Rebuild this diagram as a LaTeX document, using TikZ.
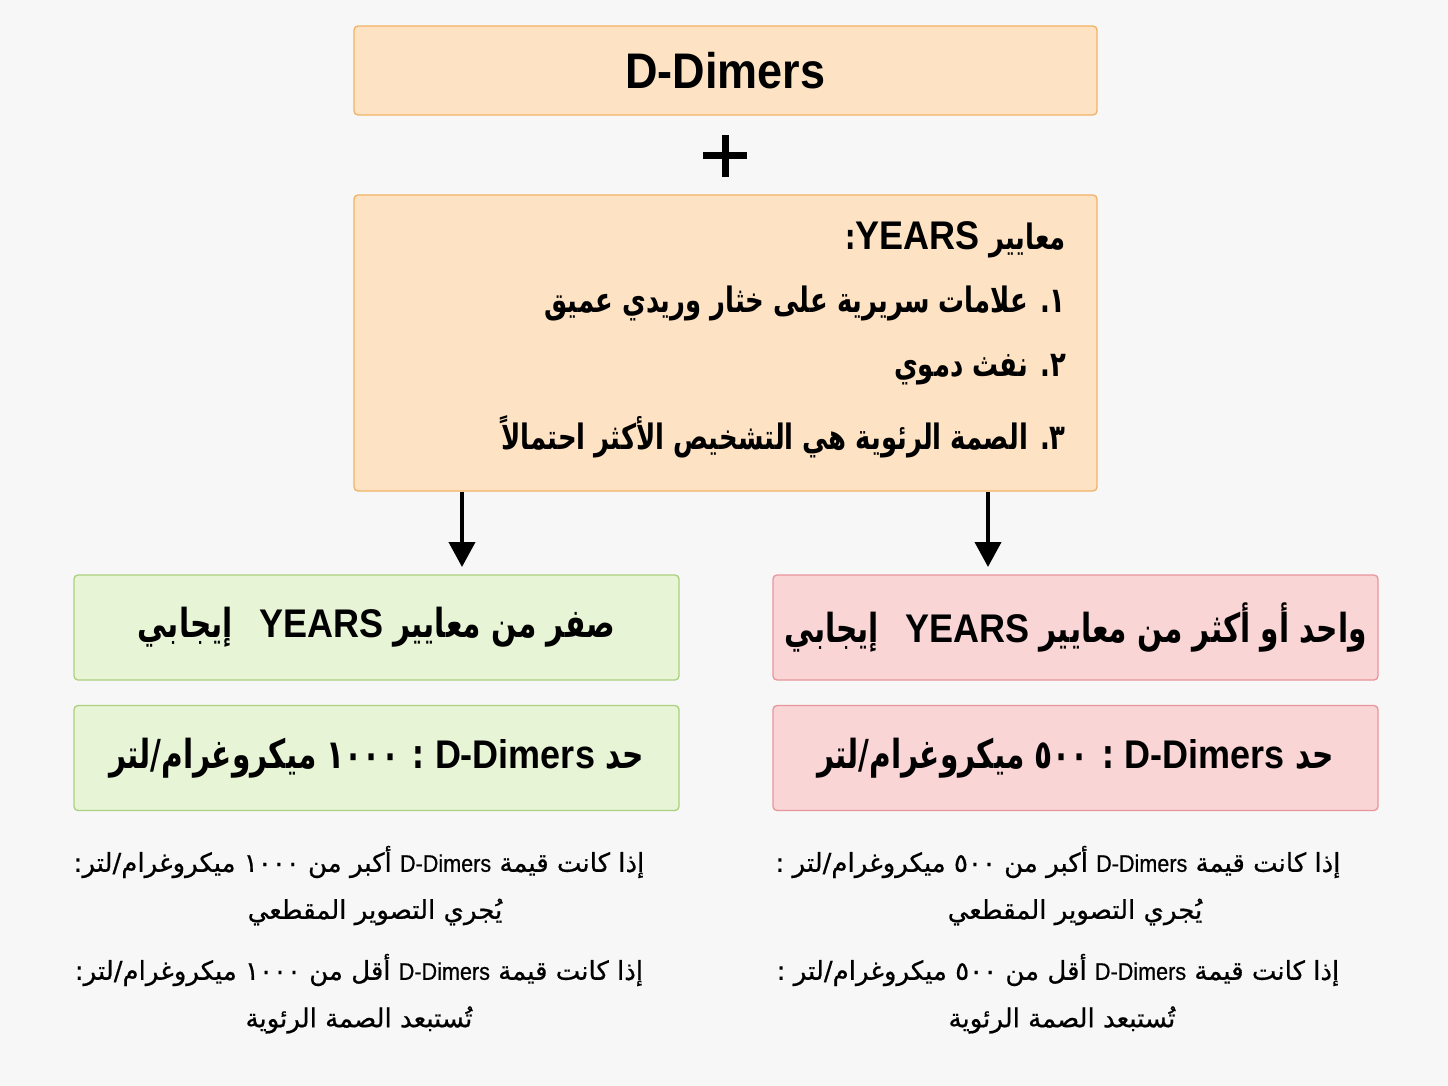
\documentclass[tikz,border=0pt]{standalone}
\usepackage{fontspec}
\setmainfont{DejaVu Sans}
\newfontfamily\arabicfont[Script=Arabic,FakeBold=0.6]{DejaVu Sans}
\newfontfamily\arabicbx[Script=Arabic,FakeStretch=0.74]{DejaVu Sans}
\newfontfamily\latinf[FakeStretch=0.9]{Liberation Sans}
\newfontfamily\latinm[FakeStretch=0.9,FakeBold=0.6]{Liberation Sans}
\TeXXeTstate=1
\usetikzlibrary{arrows.meta}
\definecolor{bg}{HTML}{F7F7F7}
\definecolor{ofill}{HTML}{FDE3C3}
\definecolor{oline}{HTML}{F2B266}
\definecolor{gfill}{HTML}{E8F4D6}
\definecolor{gline}{HTML}{A9D17F}
\definecolor{pfill}{HTML}{FAD5D6}
\definecolor{pline}{HTML}{E8959B}
\newcommand\fsz[1]{\fontsize{#1}{#1}\selectfont}
\newcommand\AR[1]{{\arabicfont\beginR #1\endR}}
\newcommand\ARB[1]{{\bfseries\arabicbx\beginR #1\endR}}
\newcommand\LT[2][40]{\beginL{\latinf\fsz{#1}#2}\endL{}}
\newcommand\LM[1]{\beginL{\latinm\fsz{24}#1}\endL{}}
\tikzset{
  box/.style={rounded corners=4pt, line width=1.3pt, inner sep=0pt, text=black},
  obox/.style={box, draw=oline, fill=ofill},
  gbox/.style={box, draw=gline, fill=gfill, minimum width=605pt, minimum height=105pt, font=\bfseries\fsz{40}},
  pbox/.style={box, draw=pline, fill=pfill, minimum width=605pt, minimum height=105pt, font=\bfseries\fsz{40}},
  txt/.style={inner sep=0pt, text=black},
  head/.style={txt, anchor=east, font=\bfseries\fsz{35}},
  foot/.style={txt, font=\fsz{26}},
  arr/.style={line width=4pt, -{Triangle[width=26pt,length=25pt]}},
  plusbar/.style={line width=7pt},
}
\begin{document}
\begin{tikzpicture}[x=1pt,y=-1pt]
\fill[bg] (0,0) rectangle (1448,1086);
\useasboundingbox (0,0) rectangle (1448,1086);
% top
\node[obox, minimum width=743pt, minimum height=89pt, font=\latinf\bfseries\fsz{50}] (top) at (725.5,70.5) {D-Dimers};
% plus
\coordinate (plus) at (725,156);
\draw[plusbar] (plus) ++(-22,0) -- ++(44,0);
\draw[plusbar] (plus) ++(0,-21) -- ++(0,42);
% years box
\node[obox, minimum width=743pt, minimum height=296pt] (years) at (725.5,343) {};
\node[head] (y0) at (1066,240) {\ARB{معايير \LT{YEARS}:}};
\node[head] (y1) at (1066,304) {\ARB{١{}. علامات سريرية على خثار وريدي عميق}};
\node[head] (y2) at (1066,370) {\ARB{٢{}. نفث دموي}};
\node[head] (y3) at (1066,437) {\ARB{٣{}. الصمة الرئوية هي التشخيص الأكثر احتمالاً}};
% arrows
\coordinate (la) at (462,567);
\coordinate (ra) at (988,567);
\draw[arr] (years.south -| la) -- (la);
\draw[arr] (years.south -| ra) -- (ra);
% green
\node[gbox] (g1) at (376.5,627.5) {\ARB{صفر من معايير \LT{YEARS}\hspace{0.4em} إيجابي}};
\node[gbox] (g2) at (376.5,758) {\ARB{حد \LT{D-Dimers} : \beginL ١٠٠٠\endL{} ميكروغرام/لتر}};
% pink
\node[pbox] (p1) at (1075.5,627.5) {\ARB{واحد أو أكثر من معايير \LT{YEARS}\hspace{0.4em} إيجابي}};
\node[pbox] (p2) at (1075.5,758) {\ARB{حد \LT{D-Dimers} : \beginL ٥٠٠\endL{} ميكروغرام/لتر}};
% bottom left
\node[foot] (l1) at (359,862) {\AR{إذا كانت قيمة \LM{D-Dimers} أكبر من \beginL ١٠٠٠\endL{} ميكروغرام/لتر{}:}};
\node[foot] (l2) at (375,912) {\AR{يُجري التصوير المقطعي}};
\node[foot] (l3) at (359,970) {\AR{إذا كانت قيمة \LM{D-Dimers} أقل من \beginL ١٠٠٠\endL{} ميكروغرام/لتر{}:}};
\node[foot] (l4) at (359,1020) {\AR{تُستبعد الصمة الرئوية}};
% bottom right
\node[foot] (r1) at (1058,862) {\AR{إذا كانت قيمة \LM{D-Dimers} أكبر من \beginL ٥٠٠\endL{} ميكروغرام/لتر :}};
\node[foot] (r2) at (1075,912) {\AR{يُجري التصوير المقطعي}};
\node[foot] (r3) at (1058,970) {\AR{إذا كانت قيمة \LM{D-Dimers} أقل من \beginL ٥٠٠\endL{} ميكروغرام/لتر :}};
\node[foot] (r4) at (1062,1020) {\AR{تُستبعد الصمة الرئوية}};
\end{tikzpicture}
\end{document}
